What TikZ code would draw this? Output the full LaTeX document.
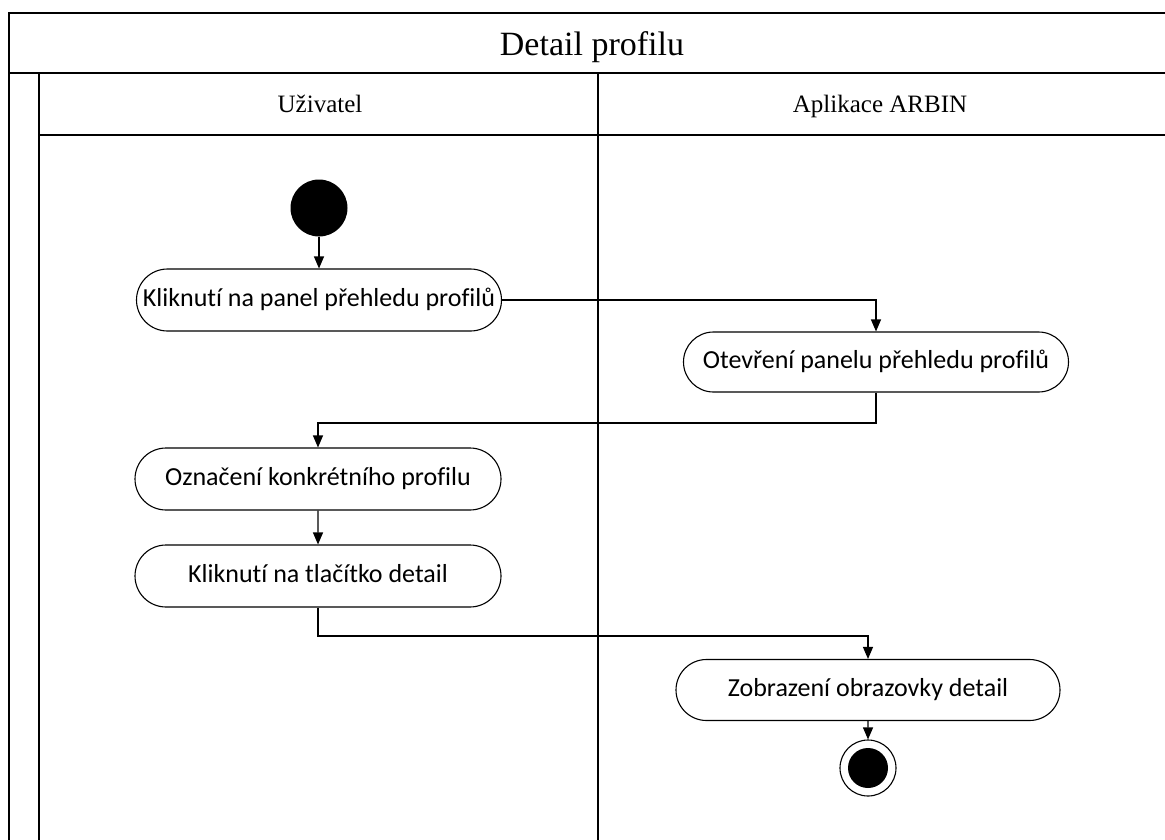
\documentclass[tikz,border=0pt]{standalone}
\usepackage{fontspec}
\setmainfont{Liberation Serif}
\newfontfamily\bodyfont[Ligatures=NoCommon]{Carlito}
\usetikzlibrary{shapes.misc,arrows.meta}
\begin{document}
\begin{tikzpicture}[x=1pt,y=-1pt,
  frame/.style={line width=1.6pt,line cap=rect},
  thin frame/.style={line width=1.2pt},
  action/.style={draw,line width=1.1pt,rounded rectangle,inner sep=0pt,
    text height=18pt,text depth=5pt,
    font=\bodyfont\fontsize{26}{30}\selectfont},
  flow/.style={line width=1.1pt,-{Triangle[length=12pt,width=10pt]}},
  lane/.style={anchor=base,font=\fontsize{25}{30}\selectfont},
]
\useasboundingbox (0,0) rectangle (1165,839);

% pool frame, title band and lanes
\draw[frame] (1165,13) -- (9,13) -- (9,839);
\draw[frame] (9,73) -- (1165,73);
\draw[frame] (39,73) -- (39,839);
\draw[frame] (598,73) -- (598,839);
\draw[thin frame] (39,135) -- (1165,135);

\node[anchor=base,font=\fontsize{34}{40}\selectfont] (title) at (592,55) {Detail profilu};
\node[lane] (laneU) at (320,112) {Uživatel};
\node[lane] (laneA) at (880,112) {Aplikace ARBIN};

% activity nodes
\node[circle,fill=black,minimum size=57pt,inner sep=0pt] (start) at (319,208) {};
\node[action,minimum width=365pt,minimum height=62pt] (n1) at (319,300) {Kliknutí na panel přehledu profilů};
\node[action,minimum width=385pt,minimum height=60pt] (n2) at (876,362) {Otevření panelu přehledu profilů};
\node[action,minimum width=366pt,minimum height=62pt] (n3) at (318,479) {Označení konkrétního profilu};
\node[action,minimum width=366pt,minimum height=62pt] (n4) at (318,576) {Kliknutí na tlačítko detail};
\node[action,minimum width=384pt,minimum height=61pt] (n5) at (868,690) {Zobrazení obrazovky detail};
\node[circle,draw,line width=1.1pt,minimum size=56pt,inner sep=0pt] (end) at (868,768) {};
\node[circle,fill=black,minimum size=40pt,inner sep=0pt] (endin) at (end.center) {};

% bend points
\coordinate (j1) at (0,423);
\coordinate (j2) at (0,636);

% control flow
\draw[flow] (start) -- (n1);
\draw[flow] (n1.east) -| (n2.north);
\draw[flow] (n2.south) -- (n2.south |- j1) -| (n3.north);
\draw[flow] (n3) -- (n4);
\draw[flow] (n4.south) -- (n4.south |- j2) -| (n5.north);
\draw[flow] (n5) -- (end);
\end{tikzpicture}
\end{document}
